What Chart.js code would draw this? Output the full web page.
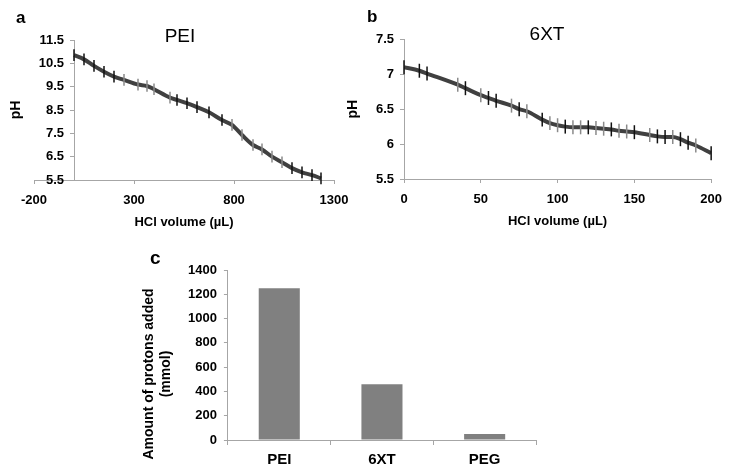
<!DOCTYPE html>
<html lang="en">
<head>
<meta charset="UTF-8">
<title>Titration of PEI and 6XT</title>
<script src="https://cdn.jsdelivr.net/npm/chart.js"></script>
<style>
  body { margin: 0; background: #fff; font-family: "Liberation Sans", Arial, sans-serif; }
  #wrap { position: relative; width: 731px; height: 474px; overflow: hidden; }
  canvas { position: absolute; }
  .panel { position: absolute; font-weight: bold; font-size: 17px; line-height: 17px; }
  #ytitleC { position: absolute; left: 157px; top: 374px; transform: translate(-50%, -50%) rotate(-90deg);
    white-space: nowrap; text-align: center; font-weight: bold; font-size: 14px; line-height: 17px; }
</style>
</head>
<body>
<div id="wrap">
  <canvas id="chartA" width="365" height="240" style="left:0;top:0"></canvas>
  <canvas id="chartB" width="396" height="240" style="left:335px;top:0"></canvas>
  <canvas id="chartC" width="416" height="229" style="left:130px;top:245px"></canvas>
  <div class="panel" style="left:16px;top:9px">a</div>
  <div class="panel" style="left:367px;top:8px">b</div>
  <div class="panel" style="left:150px;top:249px;font-size:19px">c</div>
  <div id="ytitleC">Amount of protons added<br>(mmol)</div>
</div>

<script>
  // panel a: PEI titration
  const peiVolume = [0, 50, 100, 150, 200, 250, 320, 365, 400, 480, 515, 565, 615, 675, 740, 790, 840, 895, 940, 990, 1040, 1090, 1140, 1190, 1235];
  const peiPH = [10.85, 10.67, 10.39, 10.14, 9.93, 9.79, 9.59, 9.53, 9.39, 9.03, 8.93, 8.79, 8.62, 8.40, 8.07, 7.86, 7.43, 7.00, 6.81, 6.50, 6.26, 6.01, 5.83, 5.71, 5.57];
  const peiErr = [0.25, 0.25, 0.25, 0.25, 0.25, 0.25, 0.25, 0.25, 0.25, 0.25, 0.25, 0.25, 0.25, 0.25, 0.25, 0.25, 0.25, 0.25, 0.25, 0.25, 0.25, 0.25, 0.25, 0.25, 0.25];

  // panel b: 6XT titration
  const xtVolume = [0, 10, 15, 35, 40, 50, 55, 60, 70, 75, 80, 90, 95, 100, 105, 110, 115, 120, 125, 130, 135, 140, 145, 150, 160, 165, 170, 175, 180, 185, 190, 200];
  const xtPH = [7.10, 7.05, 7.01, 6.85, 6.80, 6.70, 6.66, 6.62, 6.55, 6.50, 6.47, 6.35, 6.30, 6.27, 6.25, 6.24, 6.24, 6.24, 6.23, 6.22, 6.21, 6.19, 6.18, 6.17, 6.13, 6.11, 6.10, 6.10, 6.07, 6.02, 5.98, 5.87];
  const xtErr = [0.1, 0.1, 0.1, 0.1, 0.1, 0.1, 0.1, 0.1, 0.1, 0.1, 0.1, 0.1, 0.1, 0.1, 0.1, 0.1, 0.1, 0.1, 0.1, 0.1, 0.1, 0.1, 0.1, 0.1, 0.1, 0.1, 0.1, 0.1, 0.1, 0.1, 0.1, 0.1];

  // panel c: protons added
  const polymers = ["PEI", "6XT", "PEG"];
  const protonsAdded = [1250, 460, 50];

  // error bar colours (black / grey as in the figure)
  const K = "#111", G = "#8a8a8a";
  const peiBarColors = [K,K,K,K,K,G,G,G,G,G,K,K,K,K,K,G,G,G,G,G,G,K,K,K,K];
  const xtBarColors = [K,K,K,G,K,G,K,K,G,K,G,K,G,G,K,G,G,K,G,G,K,G,G,K,G,K,K,G,K,K,G,K];

  Chart.defaults.font.family = "'Liberation Sans', Arial, sans-serif";
  Chart.defaults.color = "#000";
  const axisGrey = "#a6a6a6";

  const errorBars = {
    id: "errorBars",
    afterDatasetsDraw(chart, args, opts) {
      if (!opts.err) return;
      const ctx = chart.ctx, xs = chart.scales.x, ys = chart.scales.y;
      ctx.save();
      ctx.lineWidth = 1.5;
      chart.data.datasets[0].data.forEach((p, i) => {
        const x = xs.getPixelForValue(p.x);
        ctx.strokeStyle = opts.colors[i];
        ctx.beginPath();
        ctx.moveTo(x, ys.getPixelForValue(p.y - opts.err[i]));
        ctx.lineTo(x, ys.getPixelForValue(p.y + opts.err[i]));
        ctx.stroke();
      });
      ctx.restore();
    }
  };
  Chart.register(errorBars);

  // y axis crosses at x = 0; its labels sit on a helper axis a little to the left
  function titration(id, xs, ys, err, colors, title, xr, yr, labelAt, titlePad, layoutPad, ytPad) {
    new Chart(document.getElementById(id), {
      type: "line",
      data: {
        datasets: [{
          data: xs.map((x, i) => ({ x, y: ys[i] })),
          xAxisID: "x", yAxisID: "y",
          borderColor: "#404040", borderWidth: 4,
          pointRadius: 0, cubicInterpolationMode: "monotone"
        }]
      },
      options: {
        responsive: false, animation: false,
        layout: { padding: layoutPad },
        plugins: {
          legend: { display: false }, tooltip: { enabled: false },
          title: { display: true, text: title, font: { size: 19, weight: "normal" }, padding: titlePad },
          errorBars: { err, colors }
        },
        scales: {
          x: {
            type: "linear", position: "bottom", min: xr[0], max: xr[1],
            ticks: { stepSize: xr[2], font: { size: 13, weight: "bold" }, padding: 9, callback: v => v },
            grid: { drawOnChartArea: false, tickLength: 4, color: axisGrey },
            border: { color: axisGrey },
            title: { display: true, text: "HCl volume (µL)", font: { size: 13, weight: "bold" }, padding: { top: -3, bottom: 2 } }
          },
          yt: {
            type: "linear", position: "left", min: yr[0], max: yr[1],
            ticks: { display: false }, grid: { display: false, drawTicks: false }, border: { display: false },
            title: { display: true, text: "pH", font: { size: 14, weight: "bold" }, padding: ytPad }
          },
          y: {
            type: "linear", position: { x: 0 }, min: yr[0], max: yr[1],
            ticks: { stepSize: yr[2], display: false },
            grid: { drawOnChartArea: false, tickLength: 4, color: axisGrey },
            border: { color: axisGrey }
          },
          yl: {
            type: "linear", position: { x: labelAt }, min: yr[0], max: yr[1],
            ticks: { stepSize: yr[2], font: { size: 13, weight: "bold" }, padding: 0, callback: v => v },
            grid: { display: false, drawTicks: false }, border: { display: false }
          }
        }
      }
    });
  }

  titration("chartA", peiVolume, peiPH, peiErr, peiBarColors, "PEI",
    [-200, 1300, 500], [5.5, 11.5, 1], -50, { top: 24.9, bottom: -7.7 },
    { left: 26, right: 31, top: 0, bottom: 7.8 }, { top: -18.4, bottom: 9.6 });

  titration("chartB", xtVolume, xtPH, xtErr, xtBarColors, "6XT",
    [0, 200, 50], [5.5, 7.5, 0.5], -6.5, { top: 23.6, bottom: -7.1 },
    { left: 47, right: 19, top: 0, bottom: 8.8 }, { top: -37.4, bottom: 42.6 });

  new Chart(document.getElementById("chartC"), {
    type: "bar",
    data: {
      labels: polymers,
      datasets: [{ data: protonsAdded, backgroundColor: "#808080", barPercentage: 0.4, categoryPercentage: 1 }]
    },
    options: {
      responsive: false, animation: false,
      layout: { padding: { left: 51, right: 10, top: 25, bottom: -1 } },
      plugins: { legend: { display: false }, tooltip: { enabled: false } },
      scales: {
        x: {
          ticks: { font: { size: 15, weight: "bold" }, padding: 6 },
          grid: { drawOnChartArea: false, tickLength: 5, color: axisGrey },
          border: { color: axisGrey }
        },
        y: {
          min: 0, max: 1400,
          ticks: { stepSize: 200, font: { size: 13, weight: "bold" }, padding: 7, callback: v => v },
          grid: { drawOnChartArea: false, tickLength: 4, color: axisGrey },
          border: { color: axisGrey }
        }
      }
    }
  });
</script>
</body>
</html>
